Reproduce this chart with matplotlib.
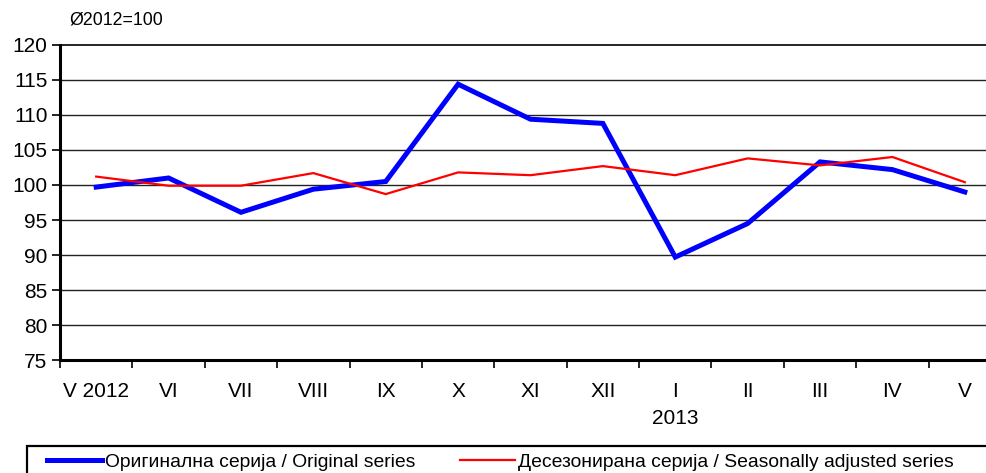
import matplotlib
matplotlib.use("Agg")
import matplotlib.pyplot as plt
import matplotlib.transforms as mtransforms
from matplotlib.patches import Rectangle
import numpy as np

plt.rcParams['font.family'] = ['Liberation Sans', 'DejaVu Sans']

months = ["V 2012", "VI", "VII", "VIII", "IX", "X", "XI", "XII", "I", "II", "III", "IV", "V"]
original = [99.7, 101.0, 96.1, 99.4, 100.5, 114.4, 109.4, 108.8, 89.7, 94.5, 103.3, 102.2, 99.0]
adjusted = [101.2, 99.9, 99.9, 101.7, 98.7, 101.8, 101.4, 102.7, 101.4, 103.8, 102.8, 104.0, 100.4]
yticks = [75, 80, 85, 90, 95, 100, 105, 110, 115, 120]

W, H = 987, 473
fig = plt.figure(figsize=(W / 100, H / 100), dpi=100)
ax = fig.add_axes([60 / W, (H - 360) / H, (1001 - 60) / W, (360 - 45) / H])

x = np.arange(len(months))
ax.plot(x, original, color='#0000ff', lw=3.6, solid_joinstyle='miter',
        label="Оригинална серија / Original series", zorder=3)
ax.plot(x, adjusted, color='#ff0000', lw=1.6,
        label="Десезонирана серија / Seasonally adjusted series", zorder=4)

ax.set_xlim(-0.5, len(months) - 0.5)
ax.set_ylim(75, 120)
ax.set_yticks(yticks)
ax.tick_params(axis='y', labelsize=15, length=6, width=1.2, pad=3)
for y in yticks[1:-1]:
    ax.axhline(y, color='#222222', lw=1.0, zorder=1)

ax.set_xticks(x)
ax.set_xticklabels(months)
ax.set_xticks(np.arange(-0.5, len(months), 1), minor=True)
ax.tick_params(axis='x', which='major', length=0, labelsize=15, pad=16)
ax.tick_params(axis='x', which='minor', length=6, width=1.2)
trans = mtransforms.blended_transform_factory(ax.transData, fig.transFigure)
ax.text(8, (H - 418) / H, "2013", transform=trans, ha='center', va='center', fontsize=15)

for s in ['left', 'bottom']:
    ax.spines[s].set_linewidth(2.2)
ax.spines['top'].set_linewidth(1.2)
ax.spines['right'].set_visible(False)

fig.text(69 / W, (H - 20) / H, "Ø2012=100", fontsize=12.8, va='center')

# legend box runs off the right and bottom edge like the original
fig.add_artist(Rectangle((27 / W, -0.05), 1.0, (H - 446) / H + 0.05,
                         transform=fig.transFigure, fill=False, edgecolor='black', lw=1.6))
leg = fig.legend(loc='center left', bbox_to_anchor=(47 / W, (H - 462) / H), ncol=2,
                 fontsize=13.9, frameon=False,
                 handlelength=2.85, handletextpad=0.15, columnspacing=2.3,
                 borderpad=0, borderaxespad=0)

fig.savefig("out.png", dpi=100)
